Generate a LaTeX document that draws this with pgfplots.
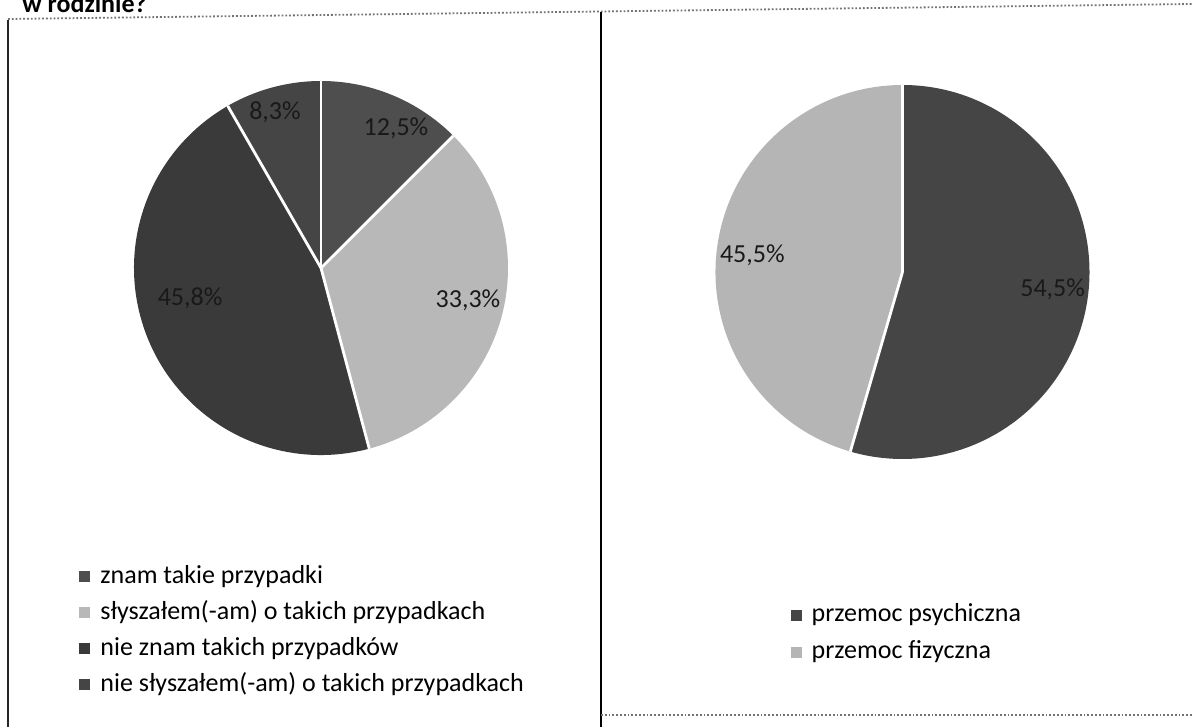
\documentclass[border=0pt]{standalone}
\usepackage{fontspec}
\setmainfont{Carlito}
\usepackage{pgfplots}
\usepackage{pgfplotstable}
\pgfplotsset{compat=1.18}

\definecolor{sA}{HTML}{4E4E4E}
\definecolor{sB}{HTML}{B8B8B8}
\definecolor{sC}{HTML}{3A3A3A}
\definecolor{sD}{HTML}{454545}
\definecolor{pA}{HTML}{454545}
\definecolor{pB}{HTML}{B5B5B5}

% value, colour, label position (axis units, radius = 1)
\pgfplotstableread{
value color lx ly
12.5 sA 0.401 0.749
33.3 sB 0.786 -0.171
45.8 sC -0.700 -0.160
8.3 sD -0.246 0.834
}\leftdata

\pgfplotstableread{
value color lx ly
54.5 pA 0.803 -0.091
45.5 pB -0.803 0.091
}\rightdata

\def\pieR{93.5pt}

\newcommand{\drawpie}[1]{%
  \pgfplotstablegetrowsof{#1}%
  \pgfmathtruncatemacro{\lastrow}{\pgfplotsretval-1}%
  \gdef\pietotal{0}%
  \foreach \i in {0,...,\lastrow}{%
    \pgfplotstablegetelem{\i}{value}\of{#1}%
    \pgfmathsetmacro{\tmp}{\pietotal+\pgfplotsretval}%
    \xdef\pietotal{\tmp}%
  }%
  \gdef\piestart{90}%
  \foreach \i in {0,...,\lastrow}{%
    \pgfplotstablegetelem{\i}{value}\of{#1}\let\val\pgfplotsretval
    \pgfplotstablegetelem{\i}{color}\of{#1}\let\col\pgfplotsretval
    \pgfmathsetmacro{\pieend}{\piestart-\val/\pietotal*360}%
    \fill[fill=\col] (0,0) -- ({cos(\piestart)},{sin(\piestart)})
      arc[start angle=\piestart, end angle=\pieend, radius=\pieR] -- cycle;
    \xdef\piestart{\pieend}%
  }%
  \gdef\piestart{90}%
  \foreach \i in {0,...,\lastrow}{%
    \pgfplotstablegetelem{\i}{value}\of{#1}\let\val\pgfplotsretval
    \draw[white, line width=1.4pt] (0,0) -- ({cos(\piestart)},{sin(\piestart)});
    \pgfmathsetmacro{\pieend}{\piestart-\val/\pietotal*360}%
    \xdef\piestart{\pieend}%
  }%
  \foreach \i in {0,...,\lastrow}{%
    \pgfplotstablegetelem{\i}{value}\of{#1}\let\val\pgfplotsretval
    \pgfplotstablegetelem{\i}{lx}\of{#1}\let\lx\pgfplotsretval
    \pgfplotstablegetelem{\i}{ly}\of{#1}\let\ly\pgfplotsretval
    \node[text=black!90, font=\fontsize{13}{15}\selectfont, inner sep=0pt]
      at (\lx,\ly) {\pgfmathprintnumber[fixed,fixed zerofill,precision=1,use comma,assume math mode=true]{\val}\%};
  }%
}

\pgfplotsset{
  pieaxis/.style={
    scale only axis, width=187pt, height=187pt,
    xmin=-1, xmax=1, ymin=-1, ymax=1,
    hide axis, clip=false,
    legend image code/.code={\fill[##1] (0pt,-2.75pt) rectangle (5.5pt,2.75pt);},
    legend cell align=left,
    legend style={draw=none, fill=none, inner sep=0pt,
      font=\fontsize{13}{15}\selectfont,
      nodes={inner sep=0pt, text height=9.5pt, text depth=3pt},
      column sep=5pt},
  },
}

\begin{document}
\begin{tikzpicture}
\useasboundingbox (0pt,0pt) rectangle (596pt,363.5pt);
% frames (scanned page)
\draw[black!55, densely dotted, line width=0.9pt] (4pt,354pt) -- (596pt,361.5pt);
\draw[black!85, line width=0.9pt] (4pt,353.5pt) -- (4pt,0pt);
\draw[black, line width=1.3pt] (300.5pt,357.5pt) -- (300.5pt,0pt);
\draw[black!55, densely dotted, line width=0.9pt] (300.5pt,6pt) -- (596pt,6pt);
% title (cut by the page edge, as in the scan)
\node[anchor=base west, inner sep=0pt, font=\fontsize{13}{15}\selectfont\bfseries] at (11pt,357.2pt) {w rodzinie?};

\begin{axis}[pieaxis, at={(160.5pt,229.5pt)}, anchor=center,
  legend style={at={(axis description cs:-0.147,-0.291)}, anchor=north west, row sep=5.5pt}]
  \addlegendimage{fill=sA, draw=none}
  \addlegendentry{znam takie przypadki}
  \addlegendimage{fill=sB, draw=none}
  \addlegendentry{słyszałem(-am) o takich przypadkach}
  \addlegendimage{fill=sC, draw=none}
  \addlegendentry{nie znam takich przypadków}
  \addlegendimage{fill=sD, draw=none}
  \addlegendentry{nie słyszałem(-am) o takich przypadkach}
  \pgfplotsextra{\drawpie{\leftdata}}
\end{axis}

\begin{axis}[pieaxis, at={(451.25pt,227.5pt)}, anchor=center,
  legend style={at={(axis description cs:0.2,-0.383)}, anchor=north west, row sep=6pt}]
  \addlegendimage{fill=pA, draw=none}
  \addlegendentry{przemoc psychiczna}
  \addlegendimage{fill=pB, draw=none}
  \addlegendentry{przemoc fizyczna}
  \pgfplotsextra{\drawpie{\rightdata}}
\end{axis}
\end{tikzpicture}
\end{document}
